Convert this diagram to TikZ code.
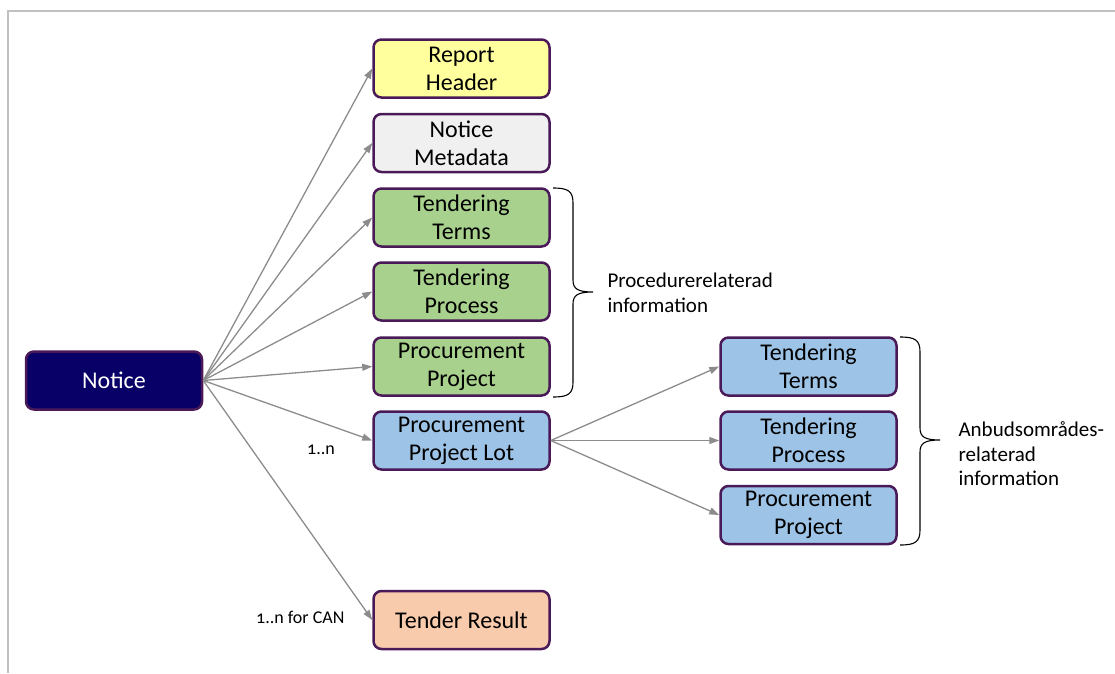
\documentclass[tikz,border=0pt]{standalone}
\usepackage{fontspec}
\setmainfont{Carlito}
\usetikzlibrary{arrows.meta}
\definecolor{boxborder}{HTML}{4A1A58}
\definecolor{arrowgray}{HTML}{8C8C8C}
\definecolor{framegray}{HTML}{C0C0C0}
\definecolor{cyellow}{HTML}{FFFF9E}
\definecolor{cgray}{HTML}{F0F0F0}
\definecolor{cgreen}{HTML}{A9D18E}
\definecolor{cblue}{HTML}{9DC3E6}
\definecolor{corange}{HTML}{F8CBAD}
\definecolor{cnavy}{HTML}{080066}
\begin{document}
\begin{tikzpicture}[x=1pt,y=-1pt,
  box/.style={draw=boxborder, line width=2.5pt, rounded corners=8pt,
    minimum width=176pt, minimum height=58pt, align=center, inner sep=0pt,
    font=\fontsize{24}{28}\selectfont},
  conn/.style={draw=arrowgray, line width=1.3pt, -{Triangle[length=10pt,width=7pt]}},
  bracetext/.style={anchor=west, align=left, font=\fontsize{21}{24.5}\selectfont},
  mult/.style={font=\fontsize{18}{20}\selectfont\addfontfeatures{Numbers=OldStyle}},
  bracepath/.style={draw=black, line width=1.1pt}]
\useasboundingbox (0,0) rectangle (1115,673);
\draw[framegray, line width=2pt] (8,673) -- (8,11) -- (1115,11);

\node[box, fill=cnavy, text=white] (notice) at (114,380.5) {Notice};
\node[box, fill=cyellow] (rh) at (461.5,68.5) {Report\\Header};
\node[box, fill=cgray] (nm) at (461.5,143) {Notice\\Metadata};
\node[box, fill=cgreen] (tt) at (461.5,217.5) {Tendering\\Terms};
\node[box, fill=cgreen] (tp) at (461.5,291.5) {Tendering\\Process};
\node[box, fill=cgreen] (pp) at (461.5,366.5) {Procurement\\Project};
\node[box, fill=cblue] (lot) at (461.5,440.5) {Procurement\\Project Lot};
\node[box, fill=corange] (tr) at (461.5,620) {Tender Result};

\node[box, fill=cblue] (ltt) at (808.5,366.5) {Tendering\\Terms};
\node[box, fill=cblue] (ltp) at (808.5,440.5) {Tendering\\Process};
\node[box, fill=cblue] (lpp) at (808.5,515) {Procurement\\Project};

\foreach \t in {rh,nm,tt,tp,pp,lot,tr}
  \draw[conn] (notice.east) -- (\t.west);
\foreach \t in {ltt,ltp,lpp}
  \draw[conn] (lot.east) -- (\t.west);

\node[mult] (m1) at (321,450) {1..n};
\node[mult, anchor=east] (m2) at (348,617) {1..n for CAN};

% braces
\draw[bracepath] (553,188) .. controls (568,188) and (573,191) .. (573,203)
  -- (573,280) .. controls (573,289) and (578,292) .. (593,292)
  .. controls (578,292) and (573,295) .. (573,304)
  -- (573,382) .. controls (573,394) and (568,397) .. (553,397);
\node[bracetext] (b1) at (604,293) {Procedurerelaterad\\information};

\draw[bracepath] (900,337) .. controls (915,337) and (920,340) .. (920,352)
  -- (920,428) .. controls (920,437) and (925,440) .. (940,440)
  .. controls (925,440) and (920,443) .. (920,452)
  -- (920,530) .. controls (920,542) and (915,545) .. (900,545);
\node[bracetext] (b2) at (955,454) {Anbudsområdes-\\relaterad\\information};
\end{tikzpicture}
\end{document}
